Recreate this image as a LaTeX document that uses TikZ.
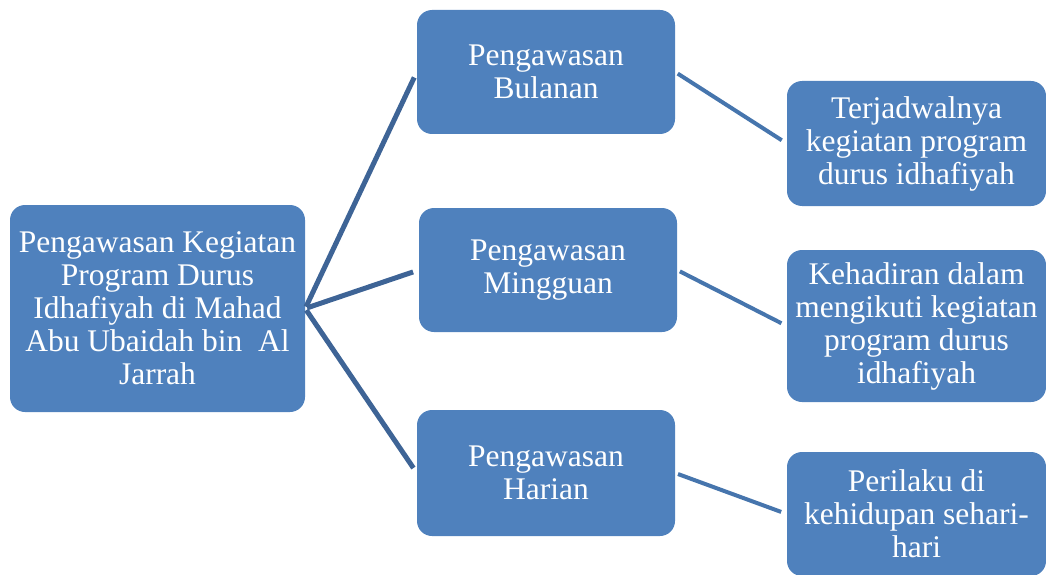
\documentclass[tikz,border=0pt]{standalone}
\usepackage{fontspec}
\setmainfont{Liberation Serif}
\definecolor{boxblue}{HTML}{4F81BD}
\definecolor{linkdark}{HTML}{3E6496}
\definecolor{linklight}{HTML}{4675AD}
\begin{document}
\begin{tikzpicture}[x=1pt,y=-1pt,
  card/.style={fill=boxblue, rounded corners=15pt, text=white, align=center,
    inner sep=0pt, font=\fontsize{31.5}{33}\selectfont},
  trunk/.style={draw=linkdark, line width=5pt, shorten <=2pt, shorten >=6pt},
  twig/.style={draw=linklight, line width=4pt, shorten <=3pt, shorten >=6pt}]
\useasboundingbox (0,0) rectangle (1046,575);

% root
\node[card, minimum width=295pt, minimum height=207pt] (root) at (157.5,308.5)
  {Pengawasan Kegiatan\\Program Durus\\Idhafiyah di Mahad\\Abu Ubaidah bin\ \ Al\\Jarrah};

% monitoring levels
\node[card, minimum width=258pt, minimum height=124pt] (b1) at (546,72) {Pengawasan\\Bulanan};
\node[card, minimum width=258pt, minimum height=124pt] (b2) at (548,270) {Pengawasan\\Mingguan};
\node[card, minimum width=258pt, minimum height=126pt] (b3) at (546,473) {Pengawasan\\Harian};

% outcomes
\node[card, minimum width=259pt, minimum height=125pt] (r1) at (916.5,143.5)
  {Terjadwalnya\\kegiatan program\\durus idhafiyah};
\node[card, minimum width=259pt, minimum height=152pt] (r2) at (916.5,326)
  {Kehadiran dalam\\mengikuti kegiatan\\program durus\\idhafiyah};
\node[card, minimum width=259pt, minimum height=124pt] (r3) at (916.5,514)
  {Perilaku di\\kehidupan sehari-\\hari};

% connectors
\draw[trunk] (root.east) -- (b1.west);
\draw[trunk] (root.east) -- (b2.west);
\draw[trunk] (root.east) -- (b3.west);
\draw[twig] (b1.east) -- (r1.west);
\draw[twig] (b2.east) -- (r2.west);
\draw[twig] (b3.east) -- (r3.west);
\end{tikzpicture}
\end{document}
